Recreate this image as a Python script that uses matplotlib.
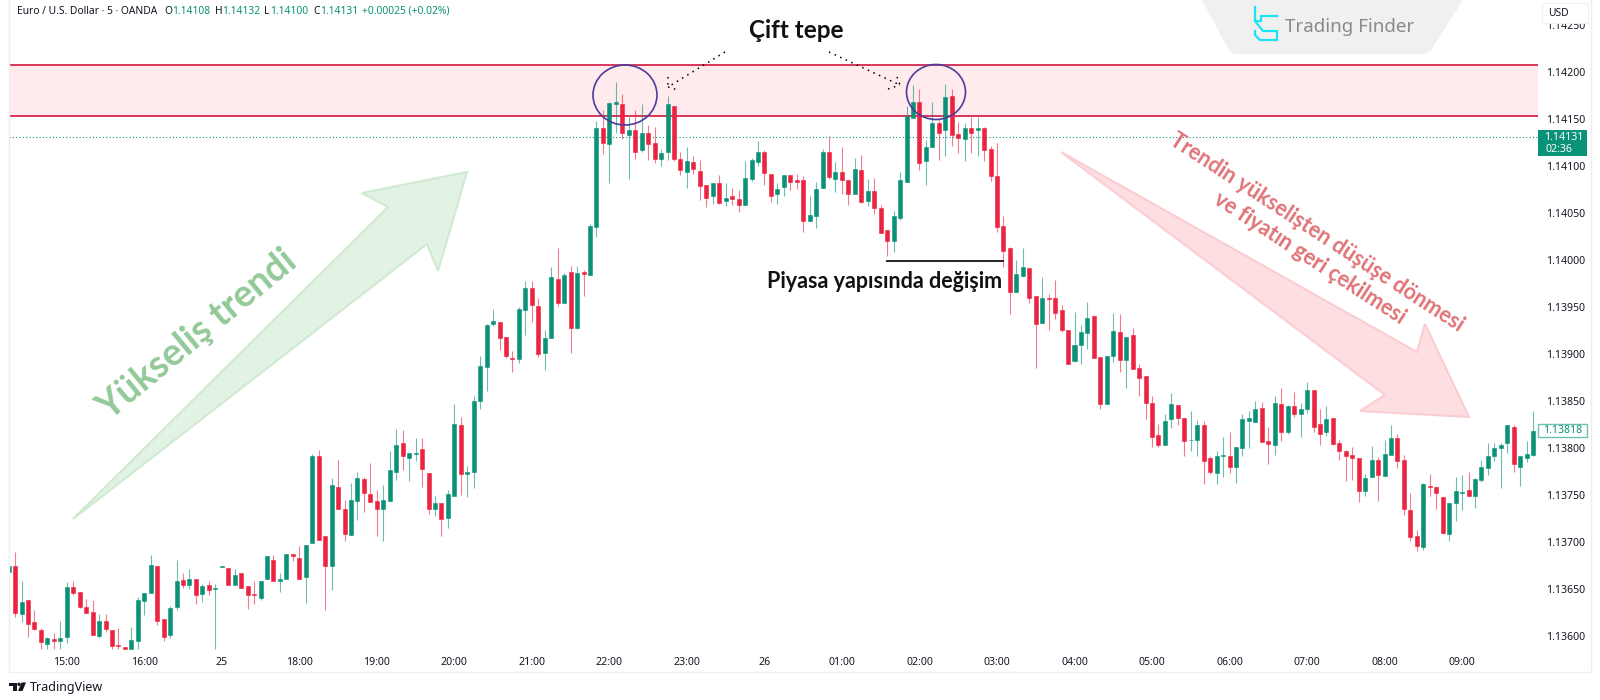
import matplotlib
matplotlib.use("Agg")
import matplotlib.pyplot as plt
from matplotlib.patches import Ellipse, Polygon, Rectangle

plt.rcParams['font.family'] = ['Noto Sans', 'DejaVu Sans']

# prices in 1e-5 units, one entry per 5 min candle
opens = [
    113668, 113675, 113623, 113638, 113615, 113606, 113591, 113597, 113595, 113599,
    113652, 113647, 113631, 113626, 113600, 113616, 113606, 113590, 113588, 113586,
    113595, 113637, 113646, 113675, 113618, 113601, 113631, 113660, 113654, 113661,
    113645, 113654, 113650, 113673, 113672, 113654, 113667, 113653, 113645, 113640,
    113661, 113681, 113659, 113661, 113687, 113683, 113663, 113699, 113792, 113706,
    113675, 113759, 113735, 113707, 113744, 113767, 113751, 113744, 113735, 113744,
    113775, 113805, 113789, 113794, 113799, 113773, 113735, 113742, 113726, 113749,
    113825, 113772, 113775, 113850, 113886, 113932, 113934, 113918, 113896, 113895,
    113947, 113970, 113951, 113901, 113917, 113980, 113954, 113987, 113928, 113987,
    113984, 114035, 114140, 114123, 114166, 114166, 114133, 114138, 114117, 114135,
    114125, 114107, 114115, 114164, 114107, 114094, 114104, 114095, 114080, 114068,
    114082, 114063, 114068, 114065, 114059, 114086, 114104, 114115, 114092, 114070,
    114078, 114090, 114085, 114085, 114041, 114047, 114077, 114115, 114086, 114094,
    114085, 114070, 114096, 114063, 114073, 114055, 114032, 114020, 114045, 114083,
    114151, 114168, 114105, 114120, 114146, 114138, 114174, 114134, 114129, 114140,
    114138, 114140, 114118, 114089, 114036, 114013, 113966, 113983, 113992, 113962,
    113933, 113960, 113960, 113947, 113926, 113893, 113910, 113922, 113940, 113897,
    113847, 113898, 113923, 113894, 113920, 113885, 113877, 113848, 113814, 113803,
    113831, 113846, 113832, 113808, 113808, 113825, 113789, 113773, 113792, 113792,
    113780, 113800, 113829, 113828, 113843, 113807, 113803, 113847, 113817, 113845,
    113836, 113842, 113862, 113826, 113817, 113832, 113805, 113797, 113793, 113789,
    113754, 113769, 113787, 113770, 113793, 113811, 113787, 113734, 113706, 113695,
    113760, 113759, 113748, 113708, 113742, 113752, 113755, 113749, 113766, 113779,
    113792, 113800, 113805, 113822, 113780, 113789, 113793,
]
highs = [
    113677, 113689, 113658, 113638, 113628, 113608, 113599, 113603, 113616, 113657,
    113659, 113647, 113639, 113638, 113623, 113623, 113606, 113608, 113588, 113610,
    113642, 113646, 113686, 113675, 113618, 113632, 113681, 113667, 113671, 113661,
    113655, 113659, 113655, 113674, 113672, 113671, 113667, 113653, 113659, 113659,
    113685, 113686, 113667, 113687, 113687, 113696, 113697, 113794, 113798, 113706,
    113768, 113787, 113745, 113763, 113775, 113769, 113784, 113755, 113761, 113797,
    113820, 113819, 113795, 113811, 113811, 113773, 113749, 113742, 113755, 113847,
    113833, 113781, 113855, 113898, 113932, 113948, 113934, 113918, 113903, 113950,
    113978, 113978, 113960, 113926, 113993, 114013, 113986, 113994, 113994, 113989,
    114038, 114148, 114160, 114168, 114189, 114177, 114152, 114160, 114166, 114144,
    114142, 114118, 114174, 114164, 114115, 114120, 114111, 114106, 114080, 114082,
    114090, 114082, 114077, 114075, 114105, 114108, 114127, 114117, 114092, 114082,
    114090, 114090, 114091, 114089, 114068, 114083, 114118, 114132, 114104, 114120,
    114085, 114108, 114112, 114086, 114087, 114058, 114032, 114052, 114094, 114164,
    114186, 114182, 114128, 114168, 114149, 114187, 114182, 114147, 114146, 114152,
    114152, 114141, 114121, 114125, 114047, 114014, 114000, 114013, 113992, 113962,
    113982, 113964, 113979, 113952, 113926, 113945, 113931, 113955, 113941, 113897,
    113898, 113944, 113943, 113918, 113928, 113889, 113877, 113855, 113826, 113836,
    113859, 113846, 113832, 113839, 113830, 113829, 113791, 113797, 113812, 113817,
    113801, 113836, 113839, 113850, 113849, 113822, 113855, 113864, 113846, 113860,
    113848, 113870, 113862, 113842, 113845, 113832, 113808, 113798, 113801, 113789,
    113772, 113802, 113790, 113808, 113825, 113815, 113793, 113752, 113713, 113763,
    113772, 113760, 113748, 113741, 113769, 113771, 113775, 113768, 113787, 113805,
    113805, 113805, 113825, 113824, 113792, 113807, 113839,
]
lows = [
    113668, 113620, 113615, 113599, 113606, 113586, 113586, 113586, 113586, 113593,
    113644, 113630, 113625, 113601, 113598, 113604, 113586, 113586, 113586, 113586,
    113586, 113622, 113646, 113612, 113595, 113598, 113628, 113651, 113650, 113634,
    113636, 113644, 113586, 113673, 113654, 113654, 113651, 113629, 113634, 113638,
    113661, 113659, 113647, 113661, 113680, 113661, 113635, 113699, 113702, 113628,
    113649, 113735, 113701, 113707, 113723, 113732, 113743, 113706, 113701, 113744,
    113766, 113777, 113765, 113786, 113759, 113730, 113728, 113706, 113715, 113749,
    113750, 113748, 113757, 113841, 113861, 113930, 113904, 113896, 113881, 113890,
    113920, 113934, 113897, 113883, 113917, 113951, 113954, 113901, 113927, 113962,
    113984, 114024, 114113, 114082, 114135, 114129, 114086, 114107, 114115, 114106,
    114103, 114100, 114106, 114105, 114090, 114077, 114091, 114064, 114056, 114060,
    114060, 114057, 114058, 114051, 114059, 114084, 114100, 114080, 114062, 114060,
    114068, 114074, 114076, 114030, 114041, 114034, 114077, 114086, 114072, 114070,
    114058, 114070, 114061, 114057, 114049, 114029, 114004, 114009, 114043, 114083,
    114151, 114096, 114080, 114120, 114106, 114111, 114121, 114114, 114105, 114114,
    114111, 114105, 114084, 114030, 113993, 113943, 113966, 113982, 113954, 113885,
    113933, 113926, 113937, 113923, 113889, 113891, 113889, 113905, 113896, 113842,
    113847, 113891, 113881, 113864, 113884, 113855, 113831, 113801, 113801, 113803,
    113821, 113824, 113791, 113797, 113791, 113762, 113772, 113762, 113769, 113773,
    113763, 113791, 113800, 113828, 113806, 113783, 113793, 113807, 113815, 113833,
    113812, 113837, 113817, 113803, 113813, 113803, 113787, 113765, 113766, 113743,
    113749, 113769, 113744, 113770, 113793, 113779, 113729, 113701, 113690, 113692,
    113749, 113735, 113709, 113701, 113722, 113734, 113749, 113736, 113764, 113771,
    113786, 113757, 113795, 113775, 113760, 113785, 113791,
]
closes = [
    113675, 113625, 113636, 113613, 113607, 113594, 113598, 113595, 113598, 113652,
    113646, 113631, 113625, 113601, 113616, 113607, 113589, 113589, 113586, 113596,
    113638, 113646, 113676, 113616, 113599, 113630, 113659, 113654, 113661, 113644,
    113653, 113649, 113651, 113674, 113654, 113665, 113651, 113644, 113644, 113659,
    113685, 113659, 113661, 113687, 113685, 113661, 113697, 113791, 113702, 113675,
    113761, 113735, 113709, 113745, 113768, 113752, 113743, 113735, 113745, 113777,
    113803, 113791, 113795, 113795, 113778, 113735, 113741, 113724, 113751, 113826,
    113772, 113775, 113850, 113887, 113931, 113935, 113917, 113898, 113895, 113948,
    113970, 113952, 113900, 113917, 113982, 113954, 113984, 113928, 113986, 113985,
    114036, 114140, 114125, 114167, 114168, 114135, 114138, 114115, 114135, 114123,
    114107, 114114, 114166, 114107, 114096, 114105, 114097, 114079, 114066, 114082,
    114061, 114066, 114065, 114059, 114087, 114106, 114115, 114093, 114068, 114076,
    114090, 114083, 114083, 114041, 114048, 114076, 114115, 114088, 114094, 114085,
    114070, 114097, 114062, 114073, 114055, 114029, 114020, 114047, 114085, 114153,
    114168, 114103, 114120, 114146, 114135, 114173, 114133, 114130, 114140, 114135,
    114140, 114117, 114089, 114035, 114010, 113966, 113985, 113993, 113960, 113932,
    113960, 113958, 113944, 113926, 113889, 113910, 113923, 113938, 113896, 113847,
    113898, 113924, 113894, 113918, 113884, 113875, 113848, 113812, 113803, 113829,
    113847, 113832, 113807, 113809, 113825, 113786, 113775, 113792, 113793, 113780,
    113801, 113831, 113832, 113842, 113806, 113804, 113848, 113817, 113845, 113836,
    113842, 113862, 113822, 113815, 113831, 113804, 113797, 113791, 113789, 113754,
    113768, 113787, 113771, 113794, 113811, 113786, 113735, 113705, 113696, 113762,
    113758, 113752, 113710, 113741, 113754, 113753, 113749, 113767, 113780, 113792,
    113800, 113803, 113825, 113783, 113792, 113794, 113818,
]

time_ticks = [9, 21, 33, 45, 57, 69, 81, 93, 105, 117, 129, 141, 153, 165, 177, 189, 201, 213, 225]
time_labels = ["15:00", "16:00", "25", "18:00", "19:00", "20:00", "21:00", "22:00", "23:00", "26",
               "01:00", "02:00", "03:00", "04:00", "05:00", "06:00", "07:00", "08:00", "09:00"]
price_ticks = [1.1360, 1.1365, 1.1370, 1.1375, 1.1380, 1.1385, 1.1390, 1.1395,
               1.1400, 1.1405, 1.1410, 1.1415, 1.1420, 1.1425]
zone_top = 1.14207
zone_bottom = 1.14153
last_price = 1.14131

GREEN = "#0A9278"
RED = "#EC2340"
INK = "#131722"
HEAVY = ['Lato', 'Liberation Sans', 'DejaVu Sans']

fig = plt.figure(figsize=(16, 7), dpi=100)
ax = fig.add_axes([9 / 1600, 1 - 652 / 700, 1529 / 1600, 652 / 700])

# supply zone and last price line
ax.add_patch(Rectangle((0, zone_bottom), 240, zone_top - zone_bottom, color="#FFEBED", lw=0, zorder=1))
ax.axhline(zone_top, color="#D3153F", lw=1.2, zorder=2)
ax.axhline(zone_bottom, color="#D3153F", lw=1.2, zorder=2)
ax.axhline(last_price, color=GREEN, lw=0.8, ls=(0, (1, 2)), zorder=2)

for i in range(len(opens)):
    o, h, l, c = opens[i] / 1e5, highs[i] / 1e5, lows[i] / 1e5, closes[i] / 1e5
    col = GREEN if c >= o else RED
    ax.vlines(i, l, h, color=col, lw=0.8, alpha=0.6, zorder=3)
    ax.bar(i, abs(c - o), bottom=min(o, c), width=0.62, color=col, edgecolor=col, lw=0.4, zorder=4)

ax.set_xlim(0.06, 236.75)
ax.set_ylim(1.135830, 1.142766)
for s in ax.spines.values():
    s.set_visible(False)
ax.yaxis.tick_right()
ax.set_yticks(price_ticks)
ax.set_yticklabels(["%.5f" % p for p in price_ticks], fontsize=7.6, color=INK)
ax.set_xticks(time_ticks)
ax.set_xticklabels(time_labels, fontsize=7.6, color=INK)
for lab in ax.get_xticklabels():
    if lab.get_text() in ("25", "26"):
        lab.set_fontweight("bold")
ax.tick_params(axis="both", length=0)
ax.tick_params(axis="x", pad=3.5)
ax.tick_params(axis="y", pad=5.5)

# everything hand drawn on the chart goes on a pixel overlay
ov = fig.add_axes([0, 0, 1, 1], facecolor="none")
ov.set_xlim(0, 1600)
ov.set_ylim(700, 0)
ov.axis("off")

# pane border
ov.plot([9, 9, 1591, 1591], [0, 672, 672, 0], color="#EEEEEE", lw=1)

# green arrow
ov.add_patch(Polygon([(73, 519), (427, 244), (438, 271), (467, 172), (362, 193), (388, 207)],
                     facecolor="#E3F3E3", edgecolor="#D0E9D1", lw=1.5, joinstyle="miter"))
ov.text(197, 335, "Yükseliş trendi", rotation=39.5, rotation_mode="anchor", ha="center", va="center",
        fontsize=27, fontweight="bold", color="#93C998", family=HEAVY)

# red arrow
ov.add_patch(Polygon([(1061, 152), (1417, 352), (1425, 324), (1469, 417), (1360, 411), (1385, 395)],
                     facecolor="#FDDFE2", edgecolor="#FBCDD2", lw=1.5, joinstyle="miter"))
ov.text(1317, 232, "Trendin yükselişten düşüşe dönmesi", rotation=-33, rotation_mode="anchor",
        ha="center", va="center", fontsize=15.5, fontweight="bold", color="#E07478", family=HEAVY)
ov.text(1310, 258, "ve fiyatın geri çekilmesi", rotation=-33, rotation_mode="anchor",
        ha="center", va="center", fontsize=15.5, fontweight="bold", color="#E07478", family=HEAVY)

# double top markers
ov.add_patch(Ellipse((625, 95), 64, 60, fill=False, edgecolor="#4B3C9E", lw=1.2))
ov.add_patch(Ellipse((936, 92), 59, 55, fill=False, edgecolor="#4B3C9E", lw=1.2))
dots = (0, (1, 3))
ov.plot([725, 668], [52, 87], color="black", lw=1.1, ls=dots)
ov.plot([668, 668], [77, 87], color="black", lw=1.1, ls=dots)
ov.plot([668, 678], [87, 90], color="black", lw=1.1, ls=dots)
ov.plot([829, 900], [52, 85], color="black", lw=1.1, ls=dots)
ov.plot([897, 900], [77, 85], color="black", lw=1.1, ls=dots)
ov.plot([888, 900], [89, 85], color="black", lw=1.1, ls=dots)
ov.text(796, 31, "Çift tepe", ha="center", va="center", fontsize=17.5, fontweight="bold", color="#111111", family=HEAVY)

ov.plot([887, 1003], [261, 261], color="#111111", lw=1.3)
ov.text(885, 282, "Piyasa yapısında değişim", ha="center", va="center", fontsize=15.5, fontweight="bold", color="#111111", family=HEAVY)

# header line
ov.text(17, 11, "Euro / U.S. Dollar · 5 · OANDA", fontsize=7.4, color=INK, va="center")
for x, letter in [(164, "O"), (215, "H"), (264, "L"), (313, "C")]:
    ov.text(x, 11, letter, fontsize=7.4, color=INK, va="center")
for x, val in [(172, "1.14108"), (222, "1.14132"), (270, "1.14100"), (320, "1.14131"), (362, "+0.00025 (+0.02%)")]:
    ov.text(x, 11, val, fontsize=7.4, color=GREEN, va="center")

# watermark
ov.add_patch(Polygon([(1202, 0), (1229, 50), (1234, 54), (1426, 54), (1431, 50), (1463, 0)], color="#F0F0F0", lw=0))
ov.plot([1255, 1255, 1261, 1261, 1277], [7, 21, 21, 16, 16], color="#19E3F5", lw=1.6)
ov.plot([1255, 1263, 1277], [21, 31, 31], color="#19E3F5", lw=1.6)
ov.plot([1255, 1255, 1260, 1277, 1277], [31, 35, 40, 40, 33], color="#19E3F5", lw=1.6)
ov.text(1285, 27, "Trading Finder", fontsize=13.5, color="#8A8A8A", va="center")

# price axis boxes
ov.add_patch(Rectangle((1542, 3), 46, 20, facecolor="white", edgecolor="#F0F0F0", lw=0.8))
ov.text(1558, 13, "USD", fontsize=7.4, color=INK, ha="center", va="center")
ov.add_patch(Rectangle((1538, 130), 49, 26, facecolor=GREEN, edgecolor=GREEN, lw=0))
ov.text(1564, 137, "1.14131", fontsize=7.6, color="white", ha="center", va="center", fontweight="bold")
ov.text(1559, 149, "02:36", fontsize=7.6, color="white", ha="center", va="center")
ov.add_patch(Rectangle((1538, 424), 49, 13, facecolor="white", edgecolor="#6CC2B2", lw=1))
ov.text(1563, 430.5, "1.13818", fontsize=7.6, color=GREEN, ha="center", va="center")

# TradingView logo
ov.add_patch(Polygon([(9, 682.5), (17, 682.5), (17, 691), (13, 691), (13, 685.5), (9, 685.5)], color=INK, lw=0))
ov.add_patch(Ellipse((19, 684.3), 3.4, 3.4, color=INK, lw=0))
ov.add_patch(Polygon([(21.5, 682.5), (26, 682.5), (22.5, 691), (18, 691)], color=INK, lw=0))
ov.text(30, 687, "TradingView", fontsize=9, color=INK, va="center")

fig.savefig("out.png", dpi=100)
